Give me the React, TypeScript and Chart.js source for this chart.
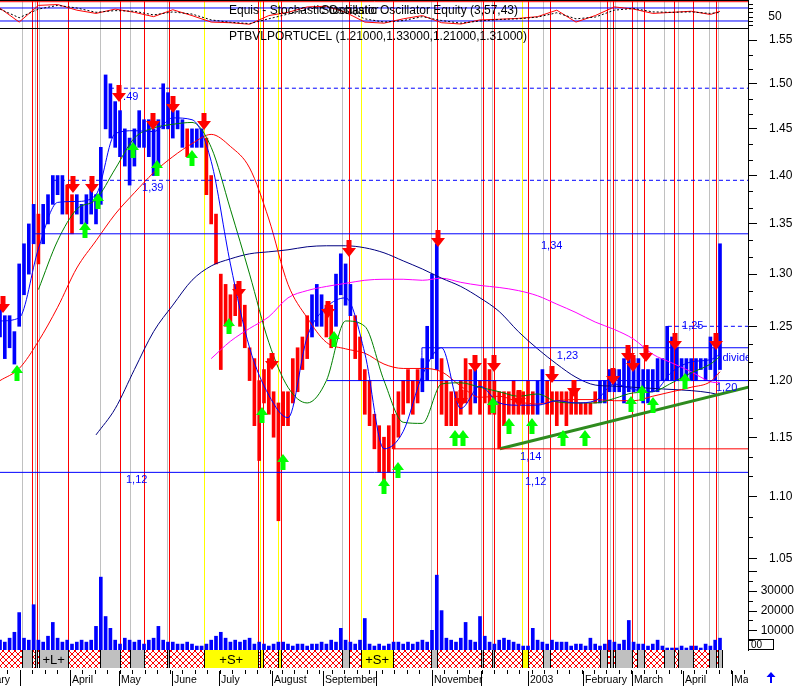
import React, { useEffect, useRef } from "react";
import { Chart, registerables } from "chart.js";

Chart.register(...registerables);

const FONT = "'Liberation Sans', Arial, Helvetica, sans-serif";
const BLUE = "#0000ff";
const RED = "#ff0000";
const LIME = "#00ff00";

// ---------------- price bars (one bar per 2 sessions; x = trading day) ----------------
const barLows = [
  1.24, 1.22, 1.23, 1.215, 1.25, 1.28, 1.30, 1.33, 1.31, 1.33,
  1.35, 1.37, 1.38, 1.36, 1.36, 1.34, 1.36, 1.35, 1.35, 1.36,
  1.35, 1.37, 1.45, 1.44, 1.43, 1.42, 1.41, 1.39, 1.41, 1.43,
  1.43, 1.42, 1.40, 1.41, 1.45, 1.45, 1.44, 1.45, 1.43, 1.42,
  1.43, 1.43, 1.43, 1.38, 1.35, 1.31, 1.21, 1.25, 1.25, 1.26,
  1.25, 1.23, 1.20, 1.16, 1.13, 1.18, 1.17, 1.15, 1.08, 1.16,
  1.16, 1.18, 1.19, 1.21, 1.22, 1.24, 1.25, 1.25, 1.24, 1.23,
  1.25, 1.28, 1.27, 1.26, 1.22, 1.20, 1.17, 1.16, 1.14, 1.12,
  1.11, 1.12, 1.14, 1.15, 1.17, 1.18, 1.17, 1.18, 1.19, 1.20,
  1.22, 1.21, 1.17, 1.16, 1.16, 1.16, 1.17, 1.18, 1.17, 1.18,
  1.17, 1.18, 1.17, 1.17, 1.14, 1.16, 1.17, 1.17, 1.17, 1.17,
  1.17, 1.17, 1.17, 1.18, 1.17, 1.17, 1.16, 1.17, 1.16, 1.17,
  1.17, 1.17, 1.17, 1.17, 1.18, 1.18, 1.18, 1.19, 1.19, 1.19,
  1.18, 1.19, 1.19, 1.19, 1.18, 1.18, 1.19, 1.19, 1.20, 1.20,
  1.20, 1.20, 1.20, 1.20, 1.20, 1.20, 1.21, 1.20, 1.21, 1.20,
  1.21,
];
const barHighs = [
  1.27, 1.26, 1.26, 1.245, 1.31, 1.33, 1.35, 1.37, 1.36, 1.37,
  1.38, 1.40, 1.40, 1.40, 1.39, 1.38, 1.38, 1.37, 1.38, 1.39,
  1.38, 1.43, 1.51, 1.50, 1.48, 1.47, 1.45, 1.44, 1.45, 1.47,
  1.46, 1.46, 1.45, 1.46, 1.50, 1.49, 1.47, 1.47, 1.46, 1.45,
  1.45, 1.45, 1.45, 1.44, 1.40, 1.36, 1.30, 1.29, 1.28, 1.29,
  1.28, 1.27, 1.23, 1.22, 1.20, 1.21, 1.22, 1.19, 1.18, 1.19,
  1.19, 1.22, 1.23, 1.24, 1.26, 1.28, 1.29, 1.28, 1.27, 1.27,
  1.30, 1.32, 1.31, 1.29, 1.26, 1.24, 1.21, 1.20, 1.17, 1.16,
  1.15, 1.16, 1.17, 1.19, 1.20, 1.21, 1.20, 1.21, 1.22, 1.25,
  1.30, 1.33, 1.22, 1.20, 1.19, 1.19, 1.20, 1.22, 1.21, 1.22,
  1.20, 1.22, 1.21, 1.20, 1.19, 1.19, 1.19, 1.20, 1.19, 1.19,
  1.20, 1.19, 1.20, 1.21, 1.20, 1.19, 1.19, 1.19, 1.19, 1.19,
  1.19, 1.18, 1.18, 1.18, 1.19, 1.20, 1.20, 1.21, 1.21, 1.21,
  1.22, 1.23, 1.22, 1.22, 1.21, 1.21, 1.21, 1.22, 1.22, 1.25,
  1.24, 1.23, 1.22, 1.22, 1.22, 1.22, 1.22, 1.22, 1.24, 1.23,
  1.33,
];
// alternating runs of up-trend (blue) and down-trend (red) bars, starting with blue
const barTrendRuns = [8, 1, 5, 2, 23, 1, 3, 22, 3, 2, 4, 14, 4, 7, 1, 12, 2, 11, 26];
// volume in thousands of shares
const volumeK = [
  5, 4, 6, 9, 19, 6, 5, 23, 5, 4,
  7, 14, 6, 4, 5, 3, 4, 5, 4, 5,
  12, 37, 17, 11, 5, 3, 6, 5, 4, 5,
  3, 5, 6, 12, 5, 4, 4, 3, 3, 4,
  3, 2, 2, 3, 5, 7, 9, 6, 4, 5,
  4, 5, 6, 3, 4, 3, 2, 3, 4, 4,
  3, 2, 3, 3, 2, 3, 3, 4, 3, 5,
  4, 11, 5, 4, 3, 5, 16, 3, 2, 3,
  2, 3, 4, 4, 3, 4, 3, 4, 5, 4,
  10, 38, 20, 6, 5, 4, 6, 14, 5, 4,
  17, 7, 4, 3, 5, 6, 5, 4, 3, 2,
  2, 11, 5, 4, 3, 5, 4, 4, 4, 2,
  3, 3, 2, 6, 3, 2, 3, 5, 4, 3,
  5, 15, 4, 3, 3, 2, 3, 5, 2, 1,
  1, 1, 2, 1, 2, 2, 1, 3, 2, 5,
  6,
];

// ---------------- indicators, read every 8 sessions ----------------
const maDays = [0, 8, 16, 24, 32, 40, 48, 56, 64, 72, 80, 88, 96, 104, 112, 120, 128, 136, 144, 152,
  160, 168, 176, 184, 192, 200, 208, 216, 224, 232, 240, 248, 256, 264, 272, 280, 288, 296, 300];
const maBlue = [1.255, 1.258, 1.325, 1.372, 1.373, 1.38, 1.445, 1.448, 1.447, 1.462,
  1.46, 1.415, 1.31, 1.23, 1.187, 1.167, 1.24, 1.268, 1.277, 1.225,
  1.14, 1.155, 1.205, 1.23, 1.175, 1.195, 1.18, 1.178, 1.178, 1.182,
  1.18, 1.182, 1.197, 1.192, 1.19, 1.208, 1.217, 1.219, 1.224];
const maGreen = [null, null, 1.285, 1.333, 1.365, 1.375, 1.407, 1.44, 1.451, 1.455,
  1.457, 1.43, 1.365, 1.30, 1.235, 1.194, 1.18, 1.20, 1.255, 1.25,
  1.20, 1.163, 1.162, 1.197, 1.198, 1.194, 1.19, 1.186, 1.188, 1.181,
  1.18, 1.18, 1.184, 1.189, 1.19, 1.198, 1.207, 1.215, 1.222];
const maRed = [1.20, 1.211, 1.236, 1.268, 1.306, 1.333, 1.36, 1.382, 1.403, 1.42,
  1.434, 1.444, 1.431, 1.408, 1.355, 1.29, 1.258, 1.235, 1.229, 1.225,
  1.215, 1.211, 1.211, 1.208, 1.195, 1.185, 1.186, 1.181, 1.179, 1.182,
  1.183, 1.183, 1.182, 1.182, 1.186, 1.19, 1.194, 1.199, 1.208];
const maNavy = [null, null, null, null, null, 1.152, 1.175, 1.21, 1.245, 1.27,
  1.294, 1.308, 1.315, 1.32, 1.322, 1.324, 1.327, 1.328, 1.328, 1.326,
  1.321, 1.313, 1.305, 1.296, 1.288, 1.277, 1.264, 1.245, 1.229, 1.215,
  1.203, 1.196, 1.195, 1.194, 1.193, 1.192, 1.191, 1.189, 1.187];
const maMagenta = [null, null, null, null, null, null, null, null, null, null,
  null, 1.22, 1.236, 1.248, 1.259, 1.277, 1.284, 1.288, 1.291, 1.294,
  1.295, 1.295, 1.294, 1.296, 1.292, 1.289, 1.287, 1.284, 1.279, 1.271,
  1.263, 1.254, 1.247, 1.238, 1.224, 1.216, 1.208, 1.199, 1.198];
const stochK = [79, 15, 92, 96, 70, 55, 75, 60, 40, 72, 45, 15, 12, 5, 45, 60, 85, 88, 60, 15,
  10, 30, 45, 12, 6, 25, 28, 32, 40, 70, 15, 45, 85, 75, 55, 60, 65, 50, 65];
const stochD = [75, 35, 75, 92, 80, 60, 68, 65, 48, 62, 52, 25, 14, 8, 30, 52, 75, 85, 70, 30,
  15, 22, 40, 22, 10, 20, 27, 30, 38, 58, 30, 38, 70, 78, 62, 60, 62, 55, 60];
const stochLevels = [80, 20];

// ---------------- signals ----------------
const sellDays = [1.25, 30.4, 38.3, 49.6, 63.75, 72.1, 85, 99.6, 113.3, 136.7, 145.4, 182.5, 192.1, 197.9,
  205.8, 216.25, 230, 239.2, 255.4, 261.7, 263.75, 269.2, 281.25, 298.3];
const sellPrices = [1.263, 1.382, 1.382, 1.48, 1.449, 1.467, 1.449, 1.277, 1.21, 1.258, 1.317, 1.327, 1.176, 1.208,
  1.208, 1.176, 1.198, 1.185, 1.196, 1.217, 1.208, 1.217, 1.228, 1.228];
const buyDays = [7.1, 35.4, 40.8, 55.4, 65.4, 80, 95.4, 109.2, 117.9, 139.2, 160, 165.8, 189.6, 192.9, 205.4,
  212.1, 221.7, 234.6, 243.75, 262.9, 267.5, 272.1, 285.4];
const buyPrices = [1.214, 1.352, 1.382, 1.436, 1.416, 1.427, 1.258, 1.176, 1.136, 1.246, 1.115, 1.129, 1.156,
  1.156, 1.185, 1.167, 1.167, 1.156, 1.156, 1.186, 1.196, 1.185, 1.207];

// vertical markers (trading day)
const grayLines = [9, 14.4, 16.2, 41.8, 54.3, 69.5, 142.7, 179.4, 200.4, 205.1, 226.4, 250.2, 254.2, 256.3,
  265.5, 276.8, 282.4, 295.5, 299.3];
const redLines = [13.2, 15.5, 28.5, 50.1, 60.1, 70.5, 107.6, 109.7, 116.9, 145.5, 163.9, 182.2, 201.1, 206,
  220.2, 229, 253, 255.3, 263.5, 268.5, 280.8, 288.9, 298.3];
const yellowLines = [85.1, 108.3, 116, 150.4, 217.3];

// expert band zones
const grayZones = [[9, 13.2], [14.4, 15.5], [16.2, 28.5], [41.8, 50.1], [54.3, 60.1], [69.5, 70.5], [142.7, 145.5],
  [179.4, 182.2], [200.4, 201.1], [205.1, 206], [226.4, 229], [250.2, 253], [254.2, 255.3], [256.3, 263.5],
  [265.5, 268.5], [276.8, 280.8], [282.4, 288.9], [295.5, 298.3], [299.3, 301]];
const yellowZones = [[85.1, 107.6], [108.3, 109.7], [116, 116.9], [150.4, 163.9], [217.3, 220.2]];
const zoneLabelDays = [22.35, 96.35, 157.15];
const zoneLabelTexts = ["+L+", "+S+", "+S+"];
const bandEndDay = 301;

// horizontal studies
const levelPrices = [1.34, 1.495, 1.395, 1.12, 1.2, 1.23, 1.14, 1.25];
const levelStarts = [13.75, 45.8, 22.5, 0, 136.25, 175.8, 163.75, 278.3];
const levelColors = [BLUE, BLUE, BLUE, BLUE, BLUE, BLUE, RED, BLUE];
const levelDashed = [false, true, true, false, false, false, false, true];
const trendDays = [208.3, 312.5];
const trendPrices = [1.14, 1.1945];

// text annotations
const noteDays = [51.3, 59.2, 225.4, 52.5, 216.7, 218.75, 232, 284.2, 298.3, 301];
const notePrices = [1.485, 1.387, 1.328, 1.1135, 1.133, 1.112, 1.222, 1.25, 1.193, 1.221];
const noteTexts = [".49", "1,39", "1,34", "1,12", "1,14", "1,12", "1,23", "1,25", "1,20", "divide"];

// axis
const priceTicks = [1.05, 1.1, 1.15, 1.2, 1.25, 1.3, 1.35, 1.4, 1.45, 1.5, 1.55];
const volumeTicksK = [10, 20, 30];
const monthDays = [-14, 8.3, 29.2, 49.6, 71.7, 91.3, 113.3, 134.6, 156.7, 180, 200.4, 220, 242.9, 263.3, 284.6, 305];
const monthLabels = ["February", "", "April", "May", "June", "July", "August", "September", "", "November", "",
  "2003", "February", "March", "April", "May"];

const DAY_MAX = 311.67;
const PRICE_MIN = 0.98;
const PRICE_MAX = 1.5975;
const STOCH_MIN = -2883;
const STOCH_MAX = 116.9;
const VOL_MAX_K = 330;

function buildConfig() {
  const barDays = barLows.map((_, i) => i * 2);
  const trendColors: string[] = [];
  barTrendRuns.forEach((n, r) => {
    for (let j = 0; j < n; j++) trendColors.push(r % 2 === 0 ? BLUE : RED);
  });
  const pts = (arr: (number | null)[]) =>
    maDays.map((d, i) => (arr[i] == null ? null : { x: d, y: arr[i] as number })).filter(Boolean);

  const line = (data: any, color: string, axis: string, extra: any = {}) => ({
    type: "line",
    data,
    borderColor: color,
    borderWidth: 1,
    pointRadius: 0,
    fill: false,
    yAxisID: axis,
    xAxisID: "x",
    order: 2,
    cubicInterpolationMode: "monotone",
    ...extra,
  });

  const datasets: any[] = [];
  levelPrices.forEach((p, i) => {
    datasets.push(
      line([{ x: levelStarts[i], y: p }, { x: DAY_MAX + 1, y: p }], levelColors[i], "y", {
        order: 1,
        borderDash: levelDashed[i] ? [4, 3] : [],
      })
    );
  });
  // box edges of the 1.20-1.23 zone and the 1.25 breakout
  datasets.push(line([{ x: levelStarts[5], y: levelPrices[4] }, { x: levelStarts[5], y: levelPrices[5] }], BLUE, "y", { order: 1 }));
  datasets.push(line([{ x: levelStarts[7], y: levelPrices[5] }, { x: levelStarts[7], y: levelPrices[7] }], BLUE, "y", { order: 1, borderDash: [4, 3] }));
  datasets.push(
    line([{ x: trendDays[0], y: trendPrices[0] }, { x: trendDays[1], y: trendPrices[1] }], "#2e8b1e", "y", {
      order: 1,
      borderWidth: 3,
    })
  );
  datasets.push(line(pts(maBlue), BLUE, "y"));
  datasets.push(line(pts(maGreen), "#008000", "y"));
  datasets.push(line(pts(maRed), RED, "y"));
  datasets.push(line(pts(maNavy), "#000080", "y"));
  datasets.push(line(pts(maMagenta), "#ff00ff", "y"));
  stochLevels.forEach((v) =>
    datasets.push(line([{ x: 0, y: v }, { x: DAY_MAX + 1, y: v }], BLUE, "yS", { order: 3 }))
  );
  datasets.push(line([{ x: 0, y: 109 }, { x: DAY_MAX + 1, y: 109 }], RED, "yS", { order: 3 }));
  datasets.push(line(pts(stochD), "#000000", "yS", { borderDash: [2, 2], cubicInterpolationMode: "default", tension: 0 }));
  datasets.push(line(pts(stochK), RED, "yS", { cubicInterpolationMode: "default", tension: 0 }));
  datasets.push({
    type: "bar",
    data: barDays.map((d, i) => ({ x: d, y: [barLows[i], barHighs[i]] })),
    backgroundColor: trendColors,
    borderWidth: 0,
    barThickness: 3,
    grouped: false,
    yAxisID: "y",
    xAxisID: "x",
    order: 4,
  });
  datasets.push({
    type: "bar",
    data: barDays.map((d, i) => ({ x: d, y: volumeK[i] })),
    backgroundColor: BLUE,
    borderWidth: 0,
    barThickness: 3,
    grouped: false,
    yAxisID: "yV",
    xAxisID: "x",
    order: 5,
  });

  let hatch: CanvasPattern | null = null;
  const getHatch = (ctx: CanvasRenderingContext2D) => {
    if (hatch) return hatch;
    const pc = document.createElement("canvas");
    pc.width = 6;
    pc.height = 6;
    const p = pc.getContext("2d")!;
    p.fillStyle = "#fff";
    p.fillRect(0, 0, 6, 6);
    p.fillStyle = RED;
    for (let i = 0; i < 6; i++) {
      p.fillRect(i, i, 1, 1);
      p.fillRect(5 - i, i, 1, 1);
    }
    hatch = ctx.createPattern(pc, "repeat");
    return hatch!;
  };

  const overlay = {
    id: "metastockOverlay",
    beforeDraw(chart: any) {
      const { ctx } = chart;
      ctx.save();
      ctx.fillStyle = "#fff";
      ctx.fillRect(0, 0, chart.width, chart.height);
      ctx.restore();
    },
    beforeDatasetsDraw(chart: any) {
      const { ctx, chartArea: a, scales } = chart;
      const xs = scales.x;
      ctx.save();
      ctx.beginPath();
      ctx.rect(a.left, a.top, a.right - a.left, a.bottom - a.top);
      ctx.clip();
      const vlines = (days: number[], color: string) => {
        ctx.strokeStyle = color;
        ctx.lineWidth = 1;
        days.forEach((d) => {
          const px = Math.round(xs.getPixelForValue(d)) + 0.5;
          ctx.beginPath();
          ctx.moveTo(px, a.top);
          ctx.lineTo(px, a.bottom);
          ctx.stroke();
        });
      };
      vlines(grayLines, "#c0c0c0");
      vlines(yellowLines, "#ffff00");
      vlines(redLines, RED);
      // panel borders
      ctx.strokeStyle = "#000";
      ctx.beginPath();
      ctx.moveTo(a.left, a.top + 0.5);
      ctx.lineTo(a.right, a.top + 0.5);
      ctx.moveTo(a.left, a.top + 28.5);
      ctx.lineTo(a.right, a.top + 28.5);
      ctx.stroke();
      ctx.restore();
    },
    afterDatasetsDraw(chart: any) {
      const { ctx, chartArea: a, scales } = chart;
      const xs = scales.x;
      const ys = scales.y;
      ctx.save();
      ctx.beginPath();
      ctx.rect(a.left, a.top, a.right - a.left, a.bottom - a.top);
      ctx.clip();
      // sell arrows
      ctx.fillStyle = RED;
      sellDays.forEach((d, i) => {
        const x = Math.round(xs.getPixelForValue(d));
        const y = Math.round(ys.getPixelForValue(sellPrices[i]));
        ctx.beginPath();
        ctx.moveTo(x - 2.5, y - 17);
        ctx.lineTo(x + 2.5, y - 17);
        ctx.lineTo(x + 2.5, y - 9);
        ctx.lineTo(x + 7, y - 9);
        ctx.lineTo(x, y);
        ctx.lineTo(x - 7, y - 9);
        ctx.lineTo(x - 2.5, y - 9);
        ctx.closePath();
        ctx.fill();
      });
      ctx.fillStyle = LIME;
      buyDays.forEach((d, i) => {
        const x = Math.round(xs.getPixelForValue(d));
        const y = Math.round(ys.getPixelForValue(buyPrices[i]));
        ctx.beginPath();
        ctx.moveTo(x, y);
        ctx.lineTo(x + 6, y + 8);
        ctx.lineTo(x + 2.5, y + 8);
        ctx.lineTo(x + 2.5, y + 16);
        ctx.lineTo(x - 2.5, y + 16);
        ctx.lineTo(x - 2.5, y + 8);
        ctx.lineTo(x - 6, y + 8);
        ctx.closePath();
        ctx.fill();
      });
      // notes
      ctx.fillStyle = BLUE;
      ctx.font = `11px ${FONT}`;
      ctx.textAlign = "left";
      ctx.textBaseline = "middle";
      noteTexts.forEach((t, i) => {
        ctx.fillText(t, xs.getPixelForValue(noteDays[i]), ys.getPixelForValue(notePrices[i]));
      });
      // titles
      ctx.fillStyle = "#000";
      ctx.font = `12px ${FONT}`;
      ctx.fillText("PTBVLPORTUCEL (1.21000,1.33000,1.21000,1.31000)", 229, a.top + 37);
      ctx.fillText("Equis - Stochastic Oscillator", 229, a.top + 11);
      ctx.textAlign = "right";
      ctx.fillText("Stochastic Oscillator Equity (3,57,43)", 518, a.top + 11);
      ctx.restore();
    },
    afterDraw(chart: any) {
      const { ctx, chartArea: a, scales } = chart;
      const xs = scales.x;
      const ys = scales.y;
      const yS = scales.yS;
      const yV = scales.yV;
      ctx.save();
      // minor price ticks
      ctx.strokeStyle = "#000";
      ctx.lineWidth = 1;
      ctx.beginPath();
      for (let i = 0; i < priceTicks.length; i++) {
        const p = priceTicks[i];
        [p - 0.05 / 3, p - 0.1 / 3, p + 0.05 / 3, p + 0.1 / 3].forEach((m) => {
          const y = Math.round(ys.getPixelForValue(m)) + 0.5;
          if (y > a.top + 30 && y < ys.getPixelForValue(1.04)) {
            ctx.moveTo(a.right, y);
            ctx.lineTo(a.right + 5, y);
          }
        });
      }
      // volume ticks
      [5, 10, 15, 20, 25, 30, 35, 40].forEach((v) => {
        const y = Math.round(yV.getPixelForValue(v)) + 0.5;
        ctx.moveTo(a.right, y);
        ctx.lineTo(a.right + (v % 10 === 0 ? 9 : 5), y);
      });
      // stochastic ticks
      [0, 20, 40, 60, 80, 100].forEach((v) => {
        const y = Math.round(yS.getPixelForValue(v)) + 0.5;
        ctx.moveTo(a.right, y);
        ctx.lineTo(a.right + 5, y);
      });
      ctx.stroke();
      ctx.fillStyle = "#000";
      ctx.font = `12px ${FONT}`;
      ctx.textBaseline = "middle";
      ctx.textAlign = "right";
      volumeTicksK.forEach((v) => ctx.fillText(String(v * 1000), 794, yV.getPixelForValue(v)));
      ctx.textAlign = "center";
      ctx.fillText("50", 775, yS.getPixelForValue(50) + 2);
      // multiplier box
      ctx.strokeRect(a.right + 0.5, a.bottom - 10.5, 25, 10);
      ctx.textAlign = "left";
      ctx.font = `10px ${FONT}`;
      ctx.fillText("00", a.right + 3, a.bottom - 5);

      // expert band
      const top = a.bottom;
      const h = 18;
      const px = (d: number) => xs.getPixelForValue(d);
      ctx.save();
      ctx.beginPath();
      ctx.rect(a.left, top, a.right - a.left, chart.height - top);
      ctx.clip();
      ctx.fillStyle = getHatch(ctx);
      ctx.fillRect(a.left, top, px(bandEndDay) - a.left, h);
      const zone = (zs: number[][], color: string) => {
        zs.forEach(([s, e]) => {
          const x0 = Math.round(px(s));
          const x1 = Math.round(px(e));
          ctx.fillStyle = color;
          ctx.fillRect(x0, top, x1 - x0, h);
          ctx.strokeStyle = "#000";
          ctx.beginPath();
          ctx.moveTo(x0 + 0.5, top);
          ctx.lineTo(x0 + 0.5, top + h);
          ctx.moveTo(x1 + 0.5, top);
          ctx.lineTo(x1 + 0.5, top + h);
          ctx.stroke();
        });
      };
      zone(grayZones, "#c0c0c0");
      zone(yellowZones, "#ffff00");
      ctx.fillStyle = "#000";
      ctx.font = `13px ${FONT}`;
      ctx.textAlign = "center";
      ctx.textBaseline = "middle";
      zoneLabelTexts.forEach((t, i) => ctx.fillText(t, px(zoneLabelDays[i]), top + h / 2 + 1));

      // date row
      const rowTop = top + h;
      ctx.strokeStyle = "#000";
      ctx.beginPath();
      for (let d = 3.1; d < DAY_MAX + 5; d += 5.2) {
        const x = Math.round(px(d)) + 0.5;
        ctx.moveTo(x, rowTop + 2);
        ctx.lineTo(x, rowTop + 6);
      }
      monthDays.forEach((d) => {
        const x = Math.round(px(d)) + 0.5;
        ctx.moveTo(x, rowTop + 3);
        ctx.lineTo(x, chart.height);
      });
      ctx.stroke();
      ctx.font = `10.5px ${FONT}`;
      ctx.textAlign = "left";
      ctx.textBaseline = "alphabetic";
      monthLabels.forEach((t, i) => {
        if (t) ctx.fillText(t, Math.round(px(monthDays[i])) + 2, rowTop + 15);
      });
      ctx.restore();

      // scroll arrow
      ctx.fillStyle = BLUE;
      ctx.beginPath();
      ctx.moveTo(771, 672);
      ctx.lineTo(775.5, 677);
      ctx.lineTo(772, 677);
      ctx.lineTo(772, 683);
      ctx.lineTo(770, 683);
      ctx.lineTo(770, 677);
      ctx.lineTo(766.5, 677);
      ctx.closePath();
      ctx.fill();
      ctx.restore();
    },
  };

  return {
    type: "bar",
    data: { datasets },
    options: {
      responsive: false,
      animation: false,
      devicePixelRatio: 1,
      events: [],
      layout: { padding: { left: 0, right: 0, top: 0, bottom: 36 } },
      plugins: { legend: { display: false }, tooltip: { enabled: false }, title: { display: false } },
      scales: {
        x: { type: "linear", min: 0, max: DAY_MAX, display: false, offset: false },
        y: {
          type: "logarithmic",
          position: "right",
          min: PRICE_MIN,
          max: PRICE_MAX,
          afterBuildTicks: (s: any) => {
            s.ticks = priceTicks.map((v) => ({ value: v }));
          },
          afterFit: (s: any) => {
            s.width = 47;
            s.paddingTop = 0;
            s.paddingBottom = 0;
          },
          ticks: {
            callback: (v: any) => Number(v).toFixed(2),
            font: { family: FONT, size: 12 },
            color: "#000",
            padding: 12,
            crossAlign: "near",
            autoSkip: false,
            maxRotation: 0,
          },
          grid: { drawOnChartArea: false, drawTicks: true, tickLength: 9, color: "#000", lineWidth: 1 },
          border: { display: true, color: "#000", width: 1 },
        },
        yS: { type: "linear", min: STOCH_MIN, max: STOCH_MAX, display: false },
        yV: { type: "linear", min: 0, max: VOL_MAX_K, display: false },
      },
    },
    plugins: [overlay],
  };
}

export default function App() {
  const ref = useRef<HTMLCanvasElement>(null);
  useEffect(() => {
    Chart.defaults.font.family = FONT;
    const chart = new Chart(ref.current as HTMLCanvasElement, buildConfig() as any);
    return () => chart.destroy();
  }, []);
  return (
    <div style={{ position: "fixed", left: 0, top: 0, width: 795, height: 686, background: "#fff" }}>
      <canvas ref={ref} width={795} height={686} style={{ display: "block", width: 795, height: 686 }} />
    </div>
  );
}
